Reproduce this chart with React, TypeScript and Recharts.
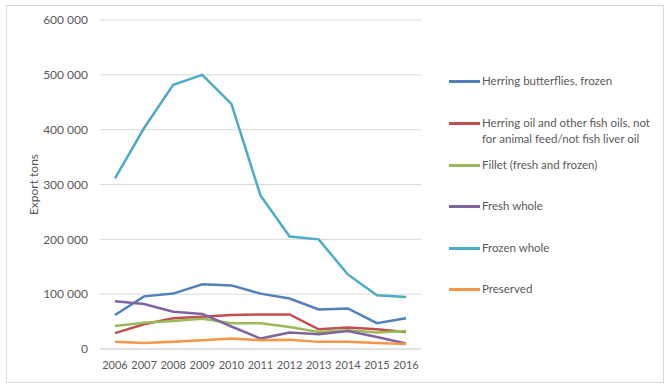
import React from 'react';
import { LineChart, Line, XAxis, YAxis, CartesianGrid } from 'recharts';

const years = ['2006', '2007', '2008', '2009', '2010', '2011', '2012', '2013', '2014', '2015', '2016'];
const butterflies = [62000, 96000, 101000, 118000, 116000, 101000, 92000, 72000, 74000, 47000, 56000];
const herringOil = [29000, 45000, 56000, 59000, 62000, 63000, 63000, 36000, 39000, 36000, 31000];
const fillet = [42000, 48000, 51000, 55000, 47000, 47000, 40000, 31000, 34000, 30000, 33000];
const freshWhole = [87000, 82000, 68000, 64000, 41000, 19000, 30000, 27000, 33000, 22000, 10000];
const frozenWhole = [311000, 403000, 482000, 500000, 447000, 280000, 205000, 200000, 136000, 98000, 95000];
const preserved = [13000, 11000, 13000, 16000, 19000, 16000, 17000, 13000, 13000, 11000, 9000];
const yTicks = [0, 100000, 200000, 300000, 400000, 500000, 600000];

const seriesNames = [
  'Herring butterflies, frozen',
  'Herring oil and other fish oils, not for animal feed/not fish liver oil',
  'Fillet (fresh and frozen)',
  'Fresh whole',
  'Frozen whole',
  'Preserved',
];
const seriesKeys = ['butterflies', 'oil', 'fillet', 'fresh', 'frozen', 'preserved'];
const seriesColors = ['#4F81BD', '#C0504D', '#9BBB59', '#8064A2', '#4BACC6', '#F79646'];
const seriesValues = [butterflies, herringOil, fillet, freshWhole, frozenWhole, preserved];

const data = years.map((y, i) => {
  const row: Record<string, string | number> = { year: y };
  seriesKeys.forEach((k, s) => {
    row[k] = seriesValues[s][i];
  });
  return row;
});

const fmt = (v: number) => {
  if (v === 0) return '0';
  const s = String(v);
  return s.slice(0, s.length - 3) + ' ' + s.slice(s.length - 3);
};

const FONT = 'Lato, "Open Sans", sans-serif';
const legendLines = [
  ['Herring butterflies, frozen'],
  ['Herring oil and other fish oils, not', 'for animal feed/not fish liver oil'],
  ['Fillet (fresh and frozen)'],
  ['Fresh whole'],
  ['Frozen whole'],
  ['Preserved'],
];
const legendY = [81, 123, 165, 206, 248, 289];

const LegendBox = () => (
  <div style={{ position: 'absolute', left: 449, top: 0, width: 215, height: 320 }}>
    {seriesNames.map((n, i) => (
      <div key={n} style={{ position: 'absolute', left: 0, top: legendY[i] - 8 }}>
        <div
          style={{
            position: 'absolute',
            left: 0,
            top: 7,
            width: 31,
            height: 3,
            background: seriesColors[i],
          }}
        />
        <div
          style={{
            position: 'absolute',
            left: 33,
            top: 0,
            whiteSpace: 'nowrap',
            fontFamily: FONT,
            fontSize: 11.5,
            lineHeight: '15.5px',
            color: '#595959',
          }}
        >
          {legendLines[i].map((l) => (
            <div key={l}>{l}</div>
          ))}
        </div>
      </div>
    ))}
  </div>
);

export default function App() {
  return (
    <div
      style={{
        position: 'absolute',
        left: 0,
        top: 0,
        width: 671,
        height: 387,
        background: '#ffffff',
      }}
    >
      <div
        style={{
          position: 'absolute',
          left: 6,
          top: 5,
          width: 656,
          height: 376,
          border: '1px solid #d9d9d9',
        }}
      />
      <div style={{ position: 'absolute', left: 0, top: 0 }}>
        <LineChart
          width={671}
          height={387}
          data={data}
          margin={{ top: 20, right: 250, bottom: 8, left: 0 }}
        >
          <CartesianGrid vertical={false} stroke="#d9d9d9" strokeWidth={1} />
          <XAxis
            dataKey="year"
            axisLine={{ stroke: '#d9d9d9' }}
            tickLine={false}
            tickSize={0}
            tickMargin={12}
            height={30}
            interval={0}
            padding={{ left: 15, right: 15 }}
            tick={{ fill: '#595959', fontSize: 11, fontFamily: FONT }}
          />
          <YAxis
            width={100}
            domain={[0, 600000]}
            ticks={yTicks}
            tickFormatter={fmt}
            axisLine={false}
            tickLine={false}
            tickSize={0}
            tickMargin={12}
            tick={{ fill: '#595959', fontSize: 12, fontFamily: FONT }}
            label={{
              value: 'Export tons',
              angle: -90,
              position: 'insideLeft',
              offset: 34,
              style: { fill: '#595959', fontSize: 12, fontFamily: FONT, textAnchor: 'middle' },
            }}
          />
          {seriesKeys.map((k, i) => (
            <Line
              key={k}
              dataKey={k}
              name={seriesNames[i]}
              stroke={seriesColors[i]}
              strokeWidth={2.5}
              dot={false}
              activeDot={false}
              type="linear"
              isAnimationActive={false}
            />
          ))}
        </LineChart>
      </div>
      <LegendBox />
    </div>
  );
}
